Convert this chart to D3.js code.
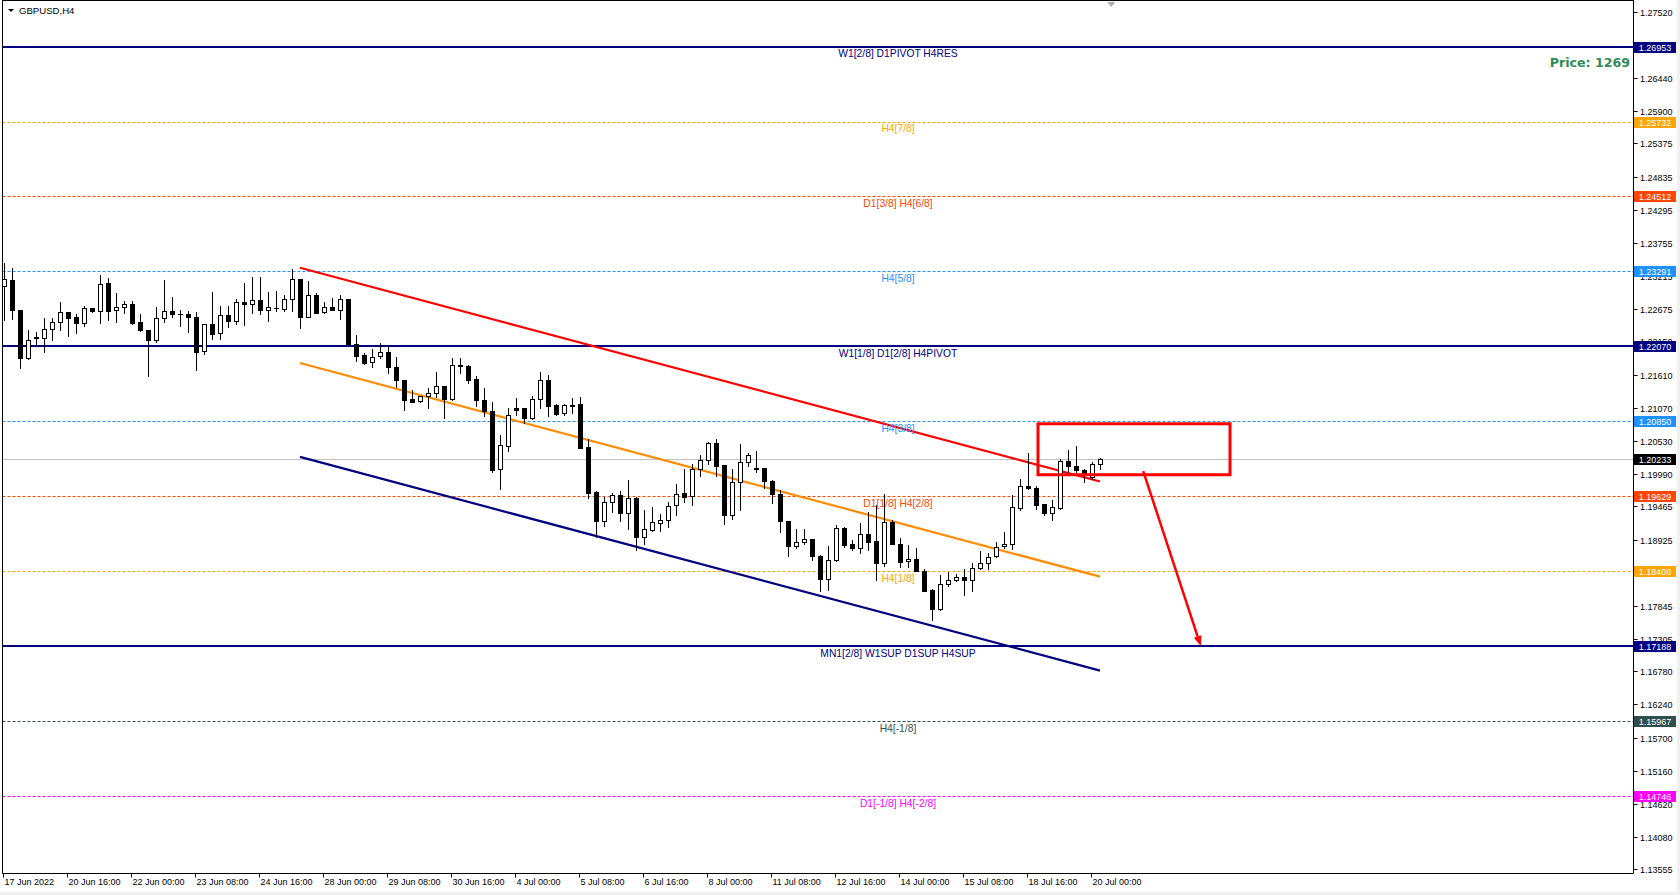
<!DOCTYPE html>
<html><head><meta charset="utf-8">
<script src="https://cdn.jsdelivr.net/npm/d3@7"></script>
<style>body{margin:0;background:#fff;overflow:hidden}svg{display:block}</style>
</head><body>
<script>
// ---------------- DATA ----------------
const symbolTitle = "GBPUSD,H4";
const opens = [1.2306,1.2315,1.2266,1.2188,1.2222,1.2221,1.2235,1.2246,1.2263,1.2255,1.2245,1.2269,1.2265,1.2310,1.2266,1.2271,1.2276,1.2246,1.2234,1.2217,
1.2253,1.2265,1.2260,1.2260,1.2255,1.2200,1.2243,1.2228,1.2258,1.2249,1.2279,1.2276,1.2282,1.2267,1.2269,1.2268,1.2284,1.2316,1.2255,1.2291,
1.2263,1.2271,1.2267,1.2284,1.2211,1.2193,1.2181,1.2191,1.2198,1.2174,1.2152,1.2121,1.2118,1.2126,1.2131,1.2143,1.2122,1.2177,1.2175,1.2154,
1.2120,1.2102,1.2007,1.2045,1.2106,1.2106,1.2091,1.2121,1.2153,1.2112,1.2099,1.2112,1.2113,1.2043,1.1970,1.1923,1.1953,1.1965,1.1935,1.1960,
1.1896,1.1908,1.1920,1.1925,1.1948,1.1968,1.1963,1.2007,1.2022,1.2049,1.2014,1.1933,1.1986,1.2018,1.2009,1.2009,1.1988,1.1966,1.1923,1.1882,
1.1888,1.1893,1.1866,1.1829,1.1859,1.1911,1.1885,1.1878,1.1901,1.1890,1.1855,1.1921,1.1886,1.1857,1.1860,1.1842,1.1810,1.1779,1.1820,1.1826,
1.1831,1.1826,1.1846,1.1854,1.1865,1.1882,1.1886,1.1944,1.1980,1.1976,1.1950,1.1935,1.1944,1.2020,1.2012,1.2006,1.1994,1.2016];
const highs = [1.2342,1.2334,1.2267,1.2233,1.2231,1.2253,1.2253,1.2279,1.2263,1.2260,1.2272,1.2270,1.2323,1.2319,1.2294,1.2281,1.2281,1.2260,1.2234,1.2271,
1.2315,1.2288,1.2266,1.2265,1.2263,1.2243,1.2295,1.2273,1.2272,1.2284,1.2310,1.2320,1.2320,1.2296,1.2297,1.2291,1.2333,1.2316,1.2314,1.2294,
1.2280,1.2285,1.2291,1.2284,1.2226,1.2196,1.2202,1.2212,1.2210,1.2190,1.2152,1.2136,1.2126,1.2140,1.2165,1.2143,1.2188,1.2188,1.2177,1.2158,
1.2139,1.2117,1.2063,1.2106,1.2123,1.2107,1.2126,1.2165,1.2160,1.2113,1.2113,1.2123,1.2124,1.2057,1.1971,1.1961,1.1968,1.1971,1.1990,1.1962,
1.1941,1.1946,1.1934,1.1953,1.1983,1.2007,1.2015,1.2030,1.2051,1.2056,1.2014,1.2007,1.2048,1.2033,1.2037,1.2009,1.1990,1.1973,1.1923,1.1909,
1.1910,1.1893,1.1868,1.1882,1.1916,1.1913,1.1891,1.1919,1.1937,1.1949,1.1967,1.1924,1.1895,1.1883,1.1878,1.1845,1.1812,1.1835,1.1840,1.1837,
1.1845,1.1854,1.1873,1.1870,1.1889,1.1905,1.1965,1.1991,1.2033,1.1980,1.1950,1.1957,1.2023,1.2039,1.2045,1.2007,1.2018,1.2026];
const lows = [1.2250,1.2252,1.2172,1.2186,1.2208,1.2198,1.2217,1.2233,1.2224,1.2229,1.2241,1.2263,1.2245,1.2250,1.2247,1.2261,1.2243,1.2232,1.2159,1.2214,
1.2247,1.2255,1.2241,1.2231,1.2169,1.2194,1.2219,1.2219,1.2239,1.2244,1.2242,1.2261,1.2260,1.2249,1.2265,1.2265,1.2264,1.2237,1.2255,1.2261,
1.2262,1.2266,1.2251,1.2210,1.2184,1.2179,1.2174,1.2188,1.2164,1.2141,1.2104,1.2116,1.2117,1.2107,1.2125,1.2091,1.2120,1.2163,1.2148,1.2110,
1.2093,1.2003,1.1975,1.2036,1.2095,1.2083,1.2088,1.2107,1.2094,1.2096,1.2096,1.2098,1.2041,1.1960,1.1897,1.1915,1.1938,1.1923,1.1910,1.1876,
1.1886,1.1906,1.1907,1.1913,1.1932,1.1954,1.1948,1.1996,1.2016,1.1996,1.1918,1.1926,1.1941,1.2012,1.2003,1.1976,1.1952,1.1905,1.1865,1.1879,
1.1886,1.1859,1.1809,1.1810,1.1858,1.1881,1.1875,1.1870,1.1876,1.1826,1.1850,1.1885,1.1848,1.1848,1.1841,1.1808,1.1762,1.1778,1.1817,1.1825,
1.1802,1.1808,1.1845,1.1845,1.1864,1.1878,1.1877,1.1941,1.1975,1.1943,1.1933,1.1924,1.1943,1.2000,1.2003,1.1986,1.1991,1.2008];
const closes = [1.2317,1.2267,1.2188,1.2217,1.2220,1.2235,1.2247,1.2263,1.2254,1.2245,1.2270,1.2264,1.2308,1.2265,1.2271,1.2276,1.2245,1.2233,1.2217,1.2253,
1.2265,1.2259,1.2259,1.2255,1.2198,1.2243,1.2227,1.2258,1.2248,1.2279,1.2276,1.2282,1.2266,1.2271,1.2270,1.2284,1.2316,1.2255,1.2291,1.2262,
1.2271,1.2267,1.2284,1.2211,1.2192,1.2180,1.2190,1.2198,1.2174,1.2152,1.2120,1.2117,1.2126,1.2131,1.2143,1.2121,1.2177,1.2175,1.2152,1.2119,
1.2101,1.2006,1.2047,1.2095,1.2104,1.2091,1.2121,1.2152,1.2110,1.2097,1.2111,1.2110,1.2042,1.1969,1.1923,1.1953,1.1965,1.1935,1.1960,1.1896,
1.1909,1.1921,1.1925,1.1947,1.1966,1.1962,1.2007,1.2022,1.2049,1.2013,1.1933,1.1986,1.2018,1.2030,1.2008,1.1987,1.1966,1.1922,1.1882,1.1888,
1.1893,1.1865,1.1829,1.1859,1.1911,1.1884,1.1878,1.1901,1.1889,1.1855,1.1921,1.1886,1.1856,1.1860,1.1842,1.1809,1.1779,1.1820,1.1826,1.1831,
1.1826,1.1846,1.1854,1.1864,1.1881,1.1886,1.1945,1.1980,1.1976,1.1949,1.1935,1.1945,1.2020,1.2012,1.2006,1.1999,1.2016,1.2023];

const xTickBars = [0,8,16,24,32,40,48,56,64,72,80,88,96,104,112,120,128,136];
const xTickLabels = ["17 Jun 2022","20 Jun 16:00","22 Jun 00:00","23 Jun 08:00","24 Jun 16:00","28 Jun 00:00","29 Jun 08:00","30 Jun 16:00","4 Jul 00:00","5 Jul 08:00","6 Jul 16:00","8 Jul 00:00","11 Jul 08:00","12 Jul 16:00","14 Jul 00:00","15 Jul 08:00","18 Jul 16:00","20 Jul 00:00"];
const yTickValues = [1.27520,1.26980,1.26440,1.25900,1.25375,1.24835,1.24295,1.23755,1.23215,1.22675,1.22150,1.21610,1.21070,1.20530,1.19990,1.19465,1.18925,1.18385,1.17845,1.17305,1.16780,1.16240,1.15700,1.15160,1.14620,1.14080,1.13555];

const levelPrices = [1.26953,1.25732,1.24512,1.23291,1.22070,1.20850,1.19629,1.18408,1.17188,1.15967,1.14746];
const levelNames = ["W1[2/8] D1PIVOT H4RES","H4[7/8]","D1[3/8] H4[6/8]","H4[5/8]","W1[1/8] D1[2/8] H4PIVOT","H4[3/8]","D1[1/8] H4[2/8]","H4[1/8]","MN1[2/8] W1SUP D1SUP H4SUP","H4[-1/8]","D1[-1/8] H4[-2/8]"];
const currentPrice = 1.20233;

const channelBars = [37, 137];
const channelUpper = [1.2335, 1.1987];
const channelMiddle = [1.2180, 1.1832];
const channelLower = [1.2027, 1.1679];

const zoneBars = [129.25, 153.25];
const zonePrices = [1.2081, 1.1998];
const arrowBars = [142.4, 149.6];
const arrowPrices = [1.2004, 1.1719];
const priceText = "Price: 1269";
const labelBar = 111.75;
const shiftBar = 138.4;

// ---------------- STYLES ----------------
const levelStyle = [
  {c:"#000080", solid:true}, {c:"#FFA500"}, {c:"#FF4500"}, {c:"#1E90FF"},
  {c:"#000080", solid:true}, {c:"#1E90FF"}, {c:"#FF4500"}, {c:"#FFA500"},
  {c:"#000080", solid:true}, {c:"#2F4F4F"}, {c:"#FF00FF"}
];
const W = 1680, H = 895;
const plotL = 2.5, plotR = 1633.5, plotB = 873.5;
const font = "'Liberation Sans', Arial, sans-serif";

const svg = d3.select("body").append("svg").attr("width", W).attr("height", H)
  .style("font-family", font);

svg.append("rect").attr("width", W).attr("height", H).attr("fill", "#fff");

const x = d3.scaleLinear().domain([0, 137]).range([4, 1100]);
const y = d3.scaleLinear().domain([1.13555, 1.27520]).range([869.3, 11.7]);
const py = v => Math.round(y(v)) + 0.5;

const plot = svg.append("g");

// current price line
plot.append("line").attr("x1", plotL).attr("x2", plotR)
  .attr("y1", py(currentPrice)).attr("y2", py(currentPrice))
  .attr("stroke", "#C0C0C0").attr("stroke-width", 1);

// level lines
levelPrices.forEach((p, k) => {
  const s = levelStyle[k];
  plot.append("line").attr("x1", plotL).attr("x2", plotR)
    .attr("y1", s.solid ? Math.round(y(p)) : py(p)).attr("y2", s.solid ? Math.round(y(p)) : py(p))
    .attr("stroke", s.c).attr("stroke-width", s.solid ? 2 : 1)
    .attr("stroke-dasharray", s.solid ? null : "3,2");
});

// channel lines
[[channelUpper, "#FF0000"], [channelMiddle, "#FF8C00"], [channelLower, "#000080"]].forEach(([vals, c]) => {
  plot.append("line")
    .attr("x1", x(channelBars[0])).attr("y1", y(vals[0]))
    .attr("x2", x(channelBars[1])).attr("y2", y(vals[1]))
    .attr("stroke", c).attr("stroke-width", 2.2);
});

// level labels
levelPrices.forEach((p, k) => {
  plot.append("text").attr("x", x(labelBar)).attr("y", y(p) + 10.5)
    .attr("text-anchor", "middle").attr("font-size", "10.3px")
    .attr("fill", levelStyle[k].c).text(levelNames[k]);
});

// candles
const bars = d3.range(opens.length);
const cg = plot.append("g");
bars.forEach(i => {
  const cx = Math.round(x(i)) + 0.5;
  const o = opens[i], c = closes[i], h = highs[i], l = lows[i];
  const yH = Math.round(y(h)), yL = Math.round(y(l));
  cg.append("line").attr("x1", cx).attr("x2", cx).attr("y1", yH).attr("y2", yL + 1)
    .attr("stroke", "#000").attr("stroke-width", 1);
  const yTop = Math.round(y(Math.max(o, c))), yBot = Math.round(y(Math.min(o, c)));
  if (yBot - yTop < 1) {
    cg.append("line").attr("x1", cx - 2.5).attr("x2", cx + 2.5)
      .attr("y1", yTop + 0.5).attr("y2", yTop + 0.5).attr("stroke", "#000");
  } else {
    cg.append("rect").attr("x", cx - 2).attr("y", yTop + 0.5)
      .attr("width", 4).attr("height", yBot - yTop)
      .attr("fill", c >= o ? "#fff" : "#000").attr("stroke", "#000").attr("stroke-width", 1);
  }
});

// red zone rectangle
plot.append("rect")
  .attr("x", x(zoneBars[0])).attr("y", y(zonePrices[0]))
  .attr("width", x(zoneBars[1]) - x(zoneBars[0])).attr("height", y(zonePrices[1]) - y(zonePrices[0]))
  .attr("fill", "none").attr("stroke", "#FF0000").attr("stroke-width", 3);

// red arrow
const ax1 = x(arrowBars[0]), ay1 = y(arrowPrices[0]), ax2 = x(arrowBars[1]), ay2 = y(arrowPrices[1]);
const ang = Math.atan2(ay2 - ay1, ax2 - ax1);
const hl = 10, hw = 4;
const bx = ax2 - hl * Math.cos(ang), by = ay2 - hl * Math.sin(ang);
plot.append("line").attr("x1", ax1).attr("y1", ay1).attr("x2", bx).attr("y2", by)
  .attr("stroke", "#FF0000").attr("stroke-width", 2.5);
plot.append("path").attr("d", `M${ax2},${ay2}L${bx + hw * Math.sin(ang)},${by - hw * Math.cos(ang)}L${bx - hw * Math.sin(ang)},${by + hw * Math.cos(ang)}Z`)
  .attr("fill", "#FF0000");

// shift marker
const sx = x(shiftBar);
svg.append("path").attr("d", `M${sx - 4},2L${sx + 4},2L${sx},7Z`).attr("fill", "#B0B0B0");

// Price text
svg.append("text").attr("x", 1630).attr("y", 67).attr("text-anchor", "end")
  .attr("font-family", "'DejaVu Sans', Verdana, sans-serif").attr("font-weight", "bold")
  .attr("font-size", "12.6px").attr("fill", "#2E8B57").text(priceText);

// title
svg.append("path").attr("d", "M8,9L14,9L11,12Z").attr("fill", "#000");
svg.append("text").attr("x", 19).attr("y", 13.5).attr("font-size", "9.6px").attr("fill", "#000").text(symbolTitle);

// frame
svg.append("line").attr("x1", plotL).attr("x2", plotL).attr("y1", 0).attr("y2", plotB).attr("stroke", "#000");
svg.append("line").attr("x1", plotL).attr("x2", plotR).attr("y1", 0.5).attr("y2", 0.5).attr("stroke", "#000");
svg.append("line").attr("x1", plotL).attr("x2", plotR).attr("y1", plotB).attr("y2", plotB).attr("stroke", "#000");
svg.append("line").attr("x1", plotR).attr("x2", plotR).attr("y1", 0).attr("y2", plotB).attr("stroke", "#000");

// x axis
const xa = svg.append("g");
xTickBars.forEach((b, k) => {
  const tx = Math.round(x(b)) - 0.5;
  xa.append("line").attr("x1", tx).attr("x2", tx).attr("y1", plotB).attr("y2", plotB + 4).attr("stroke", "#000");
  xa.append("text").attr("x", tx + 1).attr("y", 885).attr("font-size", "9px").attr("fill", "#000").text(xTickLabels[k]);
});

// y axis
const ya = svg.append("g");
yTickValues.forEach(v => {
  const ty = py(v);
  ya.append("line").attr("x1", plotR).attr("x2", plotR + 4).attr("y1", ty).attr("y2", ty).attr("stroke", "#000");
  ya.append("text").attr("x", 1640).attr("y", ty).attr("dy", "0.35em").attr("font-size", "9px").attr("fill", "#000").text(v.toFixed(5));
});

// price boxes
const boxes = levelPrices.map((p, k) => ({p, c: levelStyle[k].c})).concat([{p: currentPrice, c: "#000"}]);
boxes.forEach(b => {
  const by2 = Math.round(y(b.p));
  ya.append("rect").attr("x", 1634).attr("y", by2 - 5).attr("width", 42).attr("height", 11).attr("fill", b.c);
  ya.append("text").attr("x", 1655).attr("y", by2 + 0.5).attr("dy", "0.35em").attr("text-anchor", "middle")
    .attr("font-size", "9px").attr("fill", "#fff").text(b.p.toFixed(5));
});

// right and bottom edges
svg.append("rect").attr("x", 1677).attr("y", 0).attr("width", 3).attr("height", H).attr("fill", "#F0F0F0");
svg.append("rect").attr("x", 0).attr("y", 892).attr("width", W).attr("height", 3).attr("fill", "#F0F0F0");
</script>
</body></html>
